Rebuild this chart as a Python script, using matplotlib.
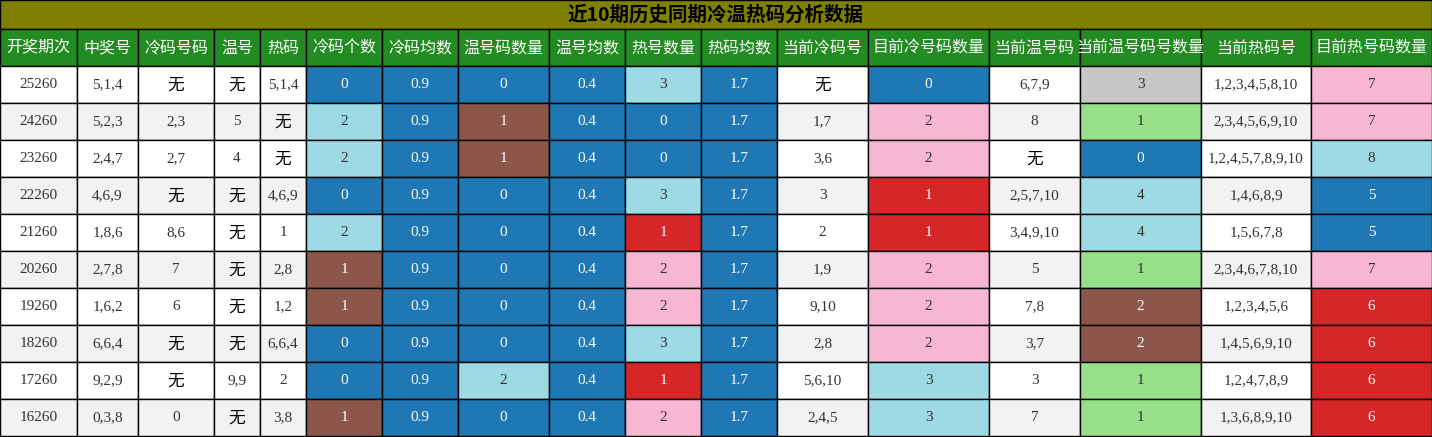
import matplotlib
matplotlib.use("Agg")
import matplotlib.pyplot as plt
from matplotlib.patches import Rectangle

title = "近10期历史同期冷温热码分析数据"
headers = ["开奖期次","中奖号","冷码号码","温号","热码","冷码个数","冷码均数","温号码数量","温号均数",
           "热号数量","热码均数","当前冷码号","目前冷号码数量","当前温号码","当前温号码号数量","当前热码号","目前热号码数量"]
period = ["25260","24260","23260","22260","21260","20260","19260","18260","17260","16260"]
winning = ["5,1,4","5,2,3","2,4,7","4,6,9","1,8,6","2,7,8","1,6,2","6,6,4","9,2,9","0,3,8"]
cold_nums = ["无","2,3","2,7","无","8,6","7","6","无","无","0"]
warm_nums = ["无","5","4","无","无","无","无","无","9,9","无"]
hot_nums = ["5,1,4","无","无","4,6,9","1","2,8","1,2","6,6,4","2","3,8"]
cold_cnt = [0,2,2,0,2,1,1,0,0,1]
cold_avg = [0.9]*10
warm_cnt = [0,1,1,0,0,0,0,0,2,0]
warm_avg = [0.4]*10
hot_cnt = [3,0,0,3,1,2,2,3,1,2]
hot_avg = [1.7]*10
cur_cold = ["无","1,7","3,6","3","2","1,9","9,10","2,8","5,6,10","2,4,5"]
cur_cold_cnt = [0,2,2,1,1,2,2,2,3,3]
cur_warm = ["6,7,9","8","无","2,5,7,10","3,4,9,10","5","7,8","3,7","3","7"]
cur_warm_cnt = [3,1,0,4,4,1,2,2,1,1]
cur_hot = ["1,2,3,4,5,8,10","2,3,4,5,6,9,10","1,2,4,5,7,8,9,10","1,4,6,8,9","1,5,6,7,8",
           "2,3,4,6,7,8,10","1,2,3,4,5,6","1,4,5,6,9,10","1,2,4,7,8,9","1,3,6,8,9,10"]
cur_hot_cnt = [7,7,8,5,5,7,6,6,6,6]

columns = [period, winning, cold_nums, warm_nums, hot_nums, cold_cnt, cold_avg, warm_cnt, warm_avg,
           hot_cnt, hot_avg, cur_cold, cur_cold_cnt, cur_warm, cur_warm_cnt, cur_hot, cur_hot_cnt]

BLUE, LB, BR, PK, RD, GR, GY = "#1f77b4", "#9edae5", "#8c564b", "#f7b6d2", "#d62728", "#98df8a", "#c7c7c7"
cmaps = {
    5: {0: BLUE, 1: BR, 2: LB},
    6: None, 8: None, 10: None,
    7: {0: BLUE, 1: BR, 2: LB},
    9: {0: BLUE, 1: RD, 2: PK, 3: LB},
    12: {0: BLUE, 1: RD, 2: PK, 3: LB},
    14: {0: BLUE, 1: GR, 2: BR, 3: GY, 4: LB},
    16: {5: BLUE, 6: RD, 7: PK, 8: LB},
}
white_text = {BLUE, BR, RD}

W, H = 1432, 437
edges = [0,77,138,214,260,306,382,458,549,625,701,777,868,989,1080,1201,1311,1432]
fig = plt.figure(figsize=(W/100, H/100), dpi=100)
ax = fig.add_axes([0, 0, 1, 1])
ax.set_xlim(0, W); ax.set_ylim(H, 0); ax.axis("off")
cjk = ["Noto Sans CJK SC", "DejaVu Sans"]
serif = ["Liberation Serif", "Noto Sans CJK SC"]

ax.add_patch(Rectangle((0, 0), W, 29, facecolor="#808000", edgecolor="black", lw=1))
ax.text(W/2, 15, title, ha="center", va="center", fontsize=14, fontweight="bold", family=cjk, color="black")
for j, h in enumerate(headers):
    x0, x1 = edges[j], edges[j+1]
    ax.add_patch(Rectangle((x0, 29), x1-x0, 37, facecolor="#228b22", edgecolor="black", lw=1))
    ax.text((x0+x1)/2, 48, h, ha="center", va="center", fontsize=11.5, family=cjk, color="white")

rh = 37
for i in range(10):
    y0 = 66 + i*rh
    base = "white" if i % 2 == 0 else "#f2f2f2"
    for j, col in enumerate(columns):
        x0, x1 = edges[j], edges[j+1]
        v = col[i]
        fc = base
        if j in cmaps:
            fc = BLUE if cmaps[j] is None else cmaps[j][v]
        ax.add_patch(Rectangle((x0, y0), x1-x0, rh, facecolor=fc, edgecolor="black", lw=1))
        tc = "white" if fc in white_text else "#333333"
        s = str(v)
        if s == "无":
            ax.text((x0+x1)/2, y0+rh/2+1, s, ha="center", va="center", fontsize=12, family=cjk, color="black")
        else:
            ax.text((x0+x1)/2, y0+rh/2, s, ha="center", va="center", fontsize=11, family=serif, color=tc)

fig.savefig("out.png", dpi=100)
